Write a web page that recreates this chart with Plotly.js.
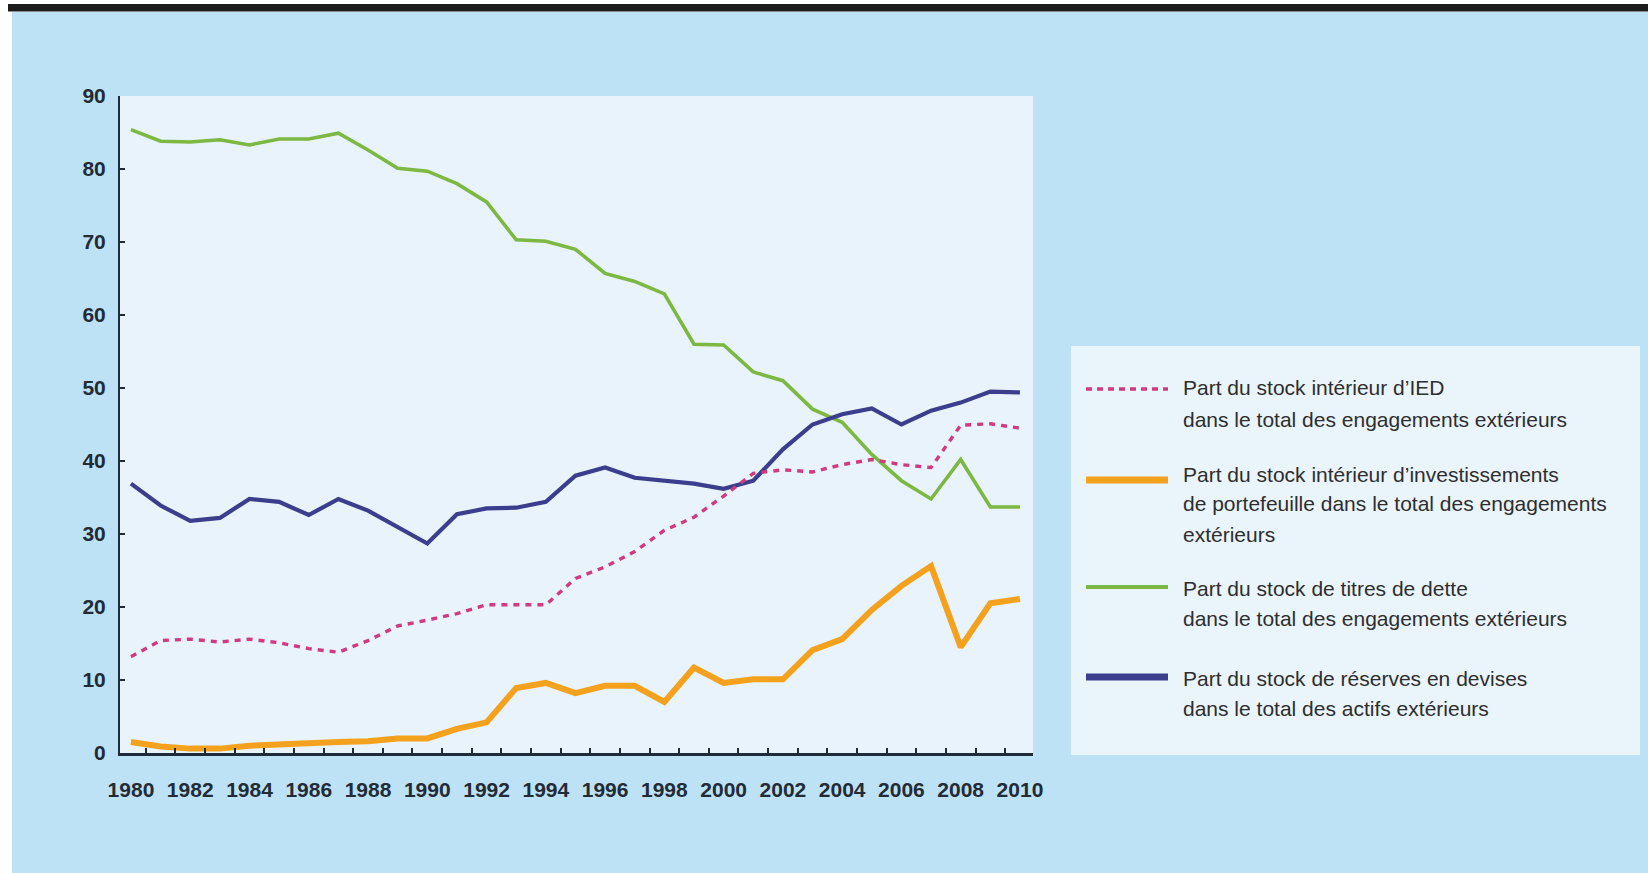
<!DOCTYPE html>
<html>
<head>
<meta charset="utf-8">
<script src="https://cdn.plot.ly/plotly-3.0.1.min.js"></script>
<style>
html, body { margin: 0; padding: 0; background: #ffffff; }
#chart { width: 1648px; height: 873px; }
</style>
</head>
<body>
<div id="chart"></div>
<script>
// ---- Data ----
const years = [1980,1981,1982,1983,1984,1985,1986,1987,1988,1989,1990,1991,1992,1993,1994,1995,1996,1997,1998,1999,2000,2001,2002,2003,2004,2005,2006,2007,2008,2009,2010];

// Part du stock intérieur d'IED dans le total des engagements extérieurs
const ied = [13.2,15.4,15.6,15.2,15.6,15.1,14.3,13.8,15.4,17.4,18.2,19.1,20.3,20.3,20.3,23.9,25.5,27.6,30.5,32.3,35.2,38.3,38.8,38.5,39.5,40.2,39.5,39.1,44.9,45.1,44.5];

// Part du stock intérieur d'investissements de portefeuille
const portefeuille = [1.5,0.9,0.6,0.6,1.0,1.2,1.5,1.5,1.6,2.0,2.0,3.3,4.2,8.9,9.6,8.2,9.2,9.2,7.0,11.7,9.6,10.1,10.1,14.1,15.6,19.6,22.9,25.6,14.5,20.5,21.1];

// Part du stock de titres de dette
const dette = [85.4,83.8,83.7,84.0,83.3,84.1,84.1,84.9,82.6,80.1,79.7,78.0,75.5,70.3,70.1,69.0,65.7,64.6,62.9,56.0,55.9,52.2,51.0,47.1,45.3,40.9,37.3,34.8,40.2,33.7,33.7];

// Part du stock de réserves en devises dans le total des actifs extérieurs
const reserves = [36.9,33.9,31.8,32.2,34.8,34.4,32.6,34.8,33.2,31.0,28.7,32.7,33.5,33.6,34.4,38.0,39.1,37.7,37.3,36.9,36.2,37.3,41.6,45.0,46.4,47.2,45.0,46.9,48.0,49.5,49.4];

const xTickLabels = ['1980','1982','1984','1986','1988','1990','1992','1994','1996','1998','2000','2002','2004','2006','2008','2010'];
const yTickValues = [0,10,20,30,40,50,60,70,80,90];

const legendLines = [
  ['Part du stock intérieur d’IED', 'dans le total des engagements extérieurs'],
  ['Part du stock intérieur d’investissements', 'de portefeuille dans le total des engagements', 'extérieurs'],
  ['Part du stock de titres de dette', 'dans le total des engagements extérieurs'],
  ['Part du stock de réserves en devises', 'dans le total des actifs extérieurs']
];

// ---- Styles ----
const C_IED = '#CF3A80';
const C_PTF = '#F4A11E';
const C_DET = '#7CB842';
const C_RES = '#3B3E8C';
const AXIS = '#1f2b38';
const FONT = 'Liberation Sans, Arial, sans-serif';

// ---- Layout geometry (pixels) ----
const W = 1648, H = 873, L = 120, R = 615, T = 96, B = 120;
const pw = W - L - R, ph = H - T - B;
const px = v => (v - L) / pw;
const py = v => (H - B - v) / ph;

const traces = [
  { x: years, y: dette, name: legendLines[2].join(' '), mode: 'lines',
    line: { color: C_DET, width: 3.6 } },
  { x: years, y: reserves, name: legendLines[3].join(' '), mode: 'lines',
    line: { color: C_RES, width: 4.2 } },
  { x: years, y: portefeuille, name: legendLines[1].join(' '), mode: 'lines',
    line: { color: C_PTF, width: 6 } },
  { x: years, y: ied, name: legendLines[0].join(' '), mode: 'lines',
    line: { color: C_IED, width: 3.4, dash: '6px,6px' } }
];

const shapes = [
  // white frame strips and black rule at top
  { type: 'rect', xref: 'paper', yref: 'paper', x0: px(0), x1: px(W), y0: py(0), y1: py(12),
    fillcolor: '#ffffff', line: { width: 0 }, layer: 'below' },
  { type: 'rect', xref: 'paper', yref: 'paper', x0: px(0), x1: px(12), y0: py(0), y1: py(H),
    fillcolor: '#ffffff', line: { width: 0 }, layer: 'below' },
  { type: 'rect', xref: 'paper', yref: 'paper', x0: px(8), x1: px(W), y0: py(4), y1: py(11.5),
    fillcolor: '#1b1b1b', line: { width: 0 }, layer: 'below' },
  // legend box
  { type: 'rect', xref: 'paper', yref: 'paper', x0: px(1071), x1: px(1640), y0: py(346), y1: py(755),
    fillcolor: '#EAF4FB', line: { width: 0 }, layer: 'below' }
];

// legend samples
const sampleY = [389, 480, 587, 677];
const sampleStyle = [
  { color: C_IED, width: 3.4, dash: '6px,5px' },
  { color: C_PTF, width: 7 },
  { color: C_DET, width: 4.2 },
  { color: C_RES, width: 7 }
];
sampleY.forEach((yy, i) => {
  shapes.push({ type: 'line', xref: 'paper', yref: 'paper', x0: px(1086), x1: px(1168),
    y0: py(yy), y1: py(yy), line: sampleStyle[i] });
});

// legend text lines
const textY = [[387, 419], [474, 503, 534], [588, 618], [678, 708]];
const annotations = [];
legendLines.forEach((lines, i) => {
  lines.forEach((t, j) => {
    annotations.push({ xref: 'paper', yref: 'paper', x: px(1181), y: py(textY[i][j]),
      xanchor: 'left', yanchor: 'middle', showarrow: false, text: t,
      font: { family: FONT, size: 21, color: '#2e2e2e' } });
  });
});

const layout = {
  width: W, height: H,
  margin: { l: L, r: R, t: T, b: B, pad: 0 },
  paper_bgcolor: '#BEE2F5',
  plot_bgcolor: '#E9F3FB',
  showlegend: false,
  xaxis: {
    range: [1979.63, 2010.44],
    tickmode: 'array',
    tickvals: xTickLabels.map(Number),
    ticktext: xTickLabels,
    ticks: '',
    showline: true, linecolor: AXIS, linewidth: 3,
    showgrid: false, zeroline: false,
    tickfont: { family: FONT, size: 21, color: '#222b36', weight: 'bold' },
    ticklabelstandoff: 16,
    minor: { tickmode: 'linear', tick0: 1980.5, dtick: 1, ticks: 'inside', ticklen: 5,
      tickwidth: 2, tickcolor: AXIS, showgrid: false },
    fixedrange: true
  },
  yaxis: {
    range: [0, 90],
    tickmode: 'array',
    tickvals: yTickValues,
    ticktext: yTickValues.map(String),
    ticks: 'inside', ticklen: 5, tickwidth: 2, tickcolor: AXIS,
    showline: true, linecolor: AXIS, linewidth: 2,
    showgrid: false, zeroline: false,
    tickfont: { family: FONT, size: 21, color: '#222b36', weight: 'bold' },
    ticklabelstandoff: 8,
    fixedrange: true
  },
  shapes: shapes,
  annotations: annotations
};

Plotly.newPlot('chart', traces, layout, { displayModeBar: false, staticPlot: true });
</script>
</body>
</html>
